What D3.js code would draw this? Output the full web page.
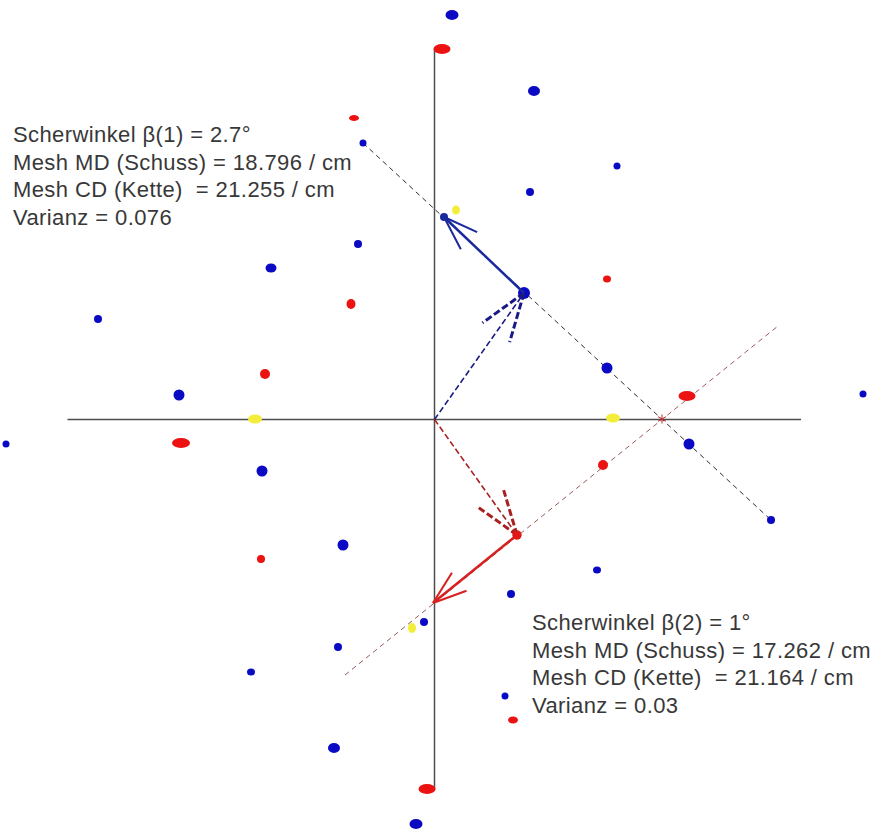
<!DOCTYPE html>
<html>
<head>
<meta charset="utf-8">
<script src="https://cdn.jsdelivr.net/npm/d3@7"></script>
<style>
  html, body { margin: 0; padding: 0; background: #fff; }
  svg { display: block; }
  text { font-family: "Liberation Sans", Arial, sans-serif; }
</style>
</head>
<body>
<svg id="chart" width="875" height="830"></svg>
<script>
// Reciprocal-lattice peaks (x, y, half-width, half-height), in lattice units
const bluePeaks = [
  [17.5, 404.5, 6.5, 5], [99.5, 328.5, 6, 5], [182.5, 253.5, 3.5, 3.5],
  [95.5, 227.5, 4, 4], [-71.5, 276.5, 3.5, 3.5], [-76.5, 175.5, 4, 4],
  [-163.5, 151.5, 5.5, 4.5], [-336.5, 100.5, 4, 4], [89.5, 126.5, 6, 6],
  [172.5, 51.5, 5.5, 5.5], [-255.5, 24.5, 5.5, 5.5], [428.5, 25.5, 3.5, 3.5],
  [-428.5, -24.5, 3.5, 3.5], [254.5, -24.5, 5.5, 5.5], [-172.5, -51.5, 5.5, 5.5],
  [336.5, -100.5, 4, 4], [-91.5, -125.5, 5.5, 5.5], [162.5, -150.5, 4, 3.5],
  [76.5, -174.5, 4, 4], [-10.5, -202.5, 4, 4], [-96.5, -227.5, 4, 4],
  [-183.5, -252.5, 4, 3.5], [70.5, -276.5, 3.5, 3.5], [-100.5, -328.5, 6, 5],
  [-18.5, -404.5, 6.5, 5]
];
const redPeaks = [
  [7.5, 370.5, 8.5, 5], [-80.5, 301.5, 5, 3], [-83.5, 115.5, 4.5, 5],
  [172.5, 140.5, 4, 3.5], [-169.5, 45.5, 5, 5], [252.5, 23.5, 8.5, 5],
  [-253.5, -23.5, 9, 5], [168.5, -45.5, 5, 5], [-173.5, -139.5, 4, 4],
  [82.5, -115.5, 4.5, 4.5], [78.5, -300.5, 5, 3.5], [-7.5, -369.5, 8.5, 5]
];
const yellowPeaks = [
  [21.5, 209.5, 4, 4.5], [-179.5, 0.5, 7, 4.5], [178.5, 1.5, 7, 4.5], [-22.5, -208.5, 4, 5]
];

// Lattice vectors: first (dashed) from origin, second (solid) from its end
const blueVectors = { first: [89.5, 126.5], second: [9.5, 202.5] };
const redVectors  = { first: [82.5, -115.5], second: [-1.5, -183.5] };

// Guide lines through the lattice rows and their crossing point
const blueGuide = [[-71.5, 276.5], [336.5, -100.5]];
const redGuide  = [[-89.5, -255.5], [343.5, 93.5]];
const guideCrossing = [227.5, 0.5];

// Axis extents
const xAxisExtent = [-367, 366.5];
const yAxisExtent = [-370, 371];

// Result annotations
const resultLines1 = [
  "Scherwinkel \u03b2(1) = 2.7\u00b0",
  "Mesh MD (Schuss) = 18.796 / cm",
  "Mesh CD (Kette)  = 21.255 / cm",
  "Varianz = 0.076"
];
const resultLines2 = [
  "Scherwinkel \u03b2(2) = 1\u00b0",
  "Mesh MD (Schuss) = 17.262 / cm",
  "Mesh CD (Kette)  = 21.164 / cm",
  "Varianz = 0.03"
];

const W = 875, H = 830;
const x = d3.scaleLinear().domain([-434.5, 440.5]).range([0, W]);
const y = d3.scaleLinear().domain([419.5, -410.5]).range([0, H]);
const kx = Math.abs(x(1) - x(0)), ky = Math.abs(y(1) - y(0));

const svg = d3.select("#chart");

// Axes
const axes = svg.append("g").attr("stroke", "#4d4d4d").attr("stroke-width", 1.5);
axes.append("line")
  .attr("x1", x(xAxisExtent[0])).attr("x2", x(xAxisExtent[1]))
  .attr("y1", y(0)).attr("y2", y(0));
axes.append("line")
  .attr("x1", x(0)).attr("x2", x(0))
  .attr("y1", y(yAxisExtent[1])).attr("y2", y(yAxisExtent[0]));

// Guide lines
const line = d3.line().x(d => x(d[0])).y(d => y(d[1]));
svg.append("path").attr("d", line(blueGuide))
  .attr("fill", "none").attr("stroke", "#2a2a3a").attr("stroke-width", 1)
  .attr("stroke-dasharray", "5,4");
svg.append("path").attr("d", line(redGuide))
  .attr("fill", "none").attr("stroke", "#9a5858").attr("stroke-width", 1)
  .attr("stroke-dasharray", "5,4");

// Peaks
function drawPeaks(data, colour) {
  svg.append("g").selectAll("ellipse").data(data).join("ellipse")
    .attr("cx", d => x(d[0])).attr("cy", d => y(d[1]))
    .attr("rx", d => d[2] * kx).attr("ry", d => d[3] * ky)
    .attr("fill", colour);
}
drawPeaks(yellowPeaks, "#f3ee3c");
drawPeaks(redPeaks, "#ec1212");
drawPeaks(bluePeaks, "#0a0ac4");

// Crossing marker
svg.append("path")
  .attr("transform", `translate(${x(guideCrossing[0])},${y(guideCrossing[1])})`)
  .attr("d", d3.symbol(d3.symbolAsterisk, 60)())
  .attr("fill", "none").attr("stroke", "#c03030").attr("stroke-width", 1);

// Arrow: shaft plus two head strokes
function arrow(from, to, opts) {
  const x0 = x(from[0]), y0 = y(from[1]), x1 = x(to[0]), y1 = y(to[1]);
  const g = svg.append("g").attr("fill", "none").attr("stroke", opts.colour);
  g.append("line").attr("x1", x0).attr("y1", y0).attr("x2", x1).attr("y2", y1)
    .attr("stroke-width", opts.width).attr("stroke-dasharray", opts.dash);
  const len = Math.hypot(x1 - x0, y1 - y0);
  const back = Math.atan2(y0 - y1, x0 - x1);
  const hl = len * 0.33, ha = 19 * Math.PI / 180;
  [-ha, ha].forEach(a => {
    g.append("line").attr("x1", x1).attr("y1", y1)
      .attr("x2", x1 + hl * Math.cos(back + a)).attr("y2", y1 + hl * Math.sin(back + a))
      .attr("stroke-width", opts.headWidth).attr("stroke-dasharray", opts.headDash);
  });
}
arrow([0, 0], blueVectors.first, { colour: "#1a1a85", width: 1.6, dash: "6,3", headWidth: 3, headDash: "7,3" });
arrow(blueVectors.first, blueVectors.second, { colour: "#1a2a9e", width: 2.5, dash: null, headWidth: 2, headDash: null });
arrow([0, 0], redVectors.first, { colour: "#a82020", width: 1.6, dash: "6,3", headWidth: 3, headDash: "7,3" });
arrow(redVectors.first, redVectors.second, { colour: "#d82020", width: 2.5, dash: null, headWidth: 2, headDash: null });

// Vector end dots
svg.append("circle").attr("cx", x(blueVectors.second[0])).attr("cy", y(blueVectors.second[1]))
  .attr("r", 4).attr("fill", "#1a2a9e");
svg.append("circle").attr("cx", x(redVectors.first[0])).attr("cy", y(redVectors.first[1]))
  .attr("r", 4.5).attr("fill", "#e01818");

// Annotation blocks
function textBlock(lines, x0, y0, step) {
  svg.append("g").selectAll("text").data(lines).join("text")
    .attr("x", x0).attr("y", (d, i) => y0 + i * step)
    .attr("font-size", 22).attr("letter-spacing", 0.4)
    .attr("fill", "#383838")
    .style("white-space", "pre")
    .text(d => d);
}
textBlock(resultLines1, 13, 142, 27.7);
textBlock(resultLines2, 532, 630, 27.7);
</script>
</body>
</html>
